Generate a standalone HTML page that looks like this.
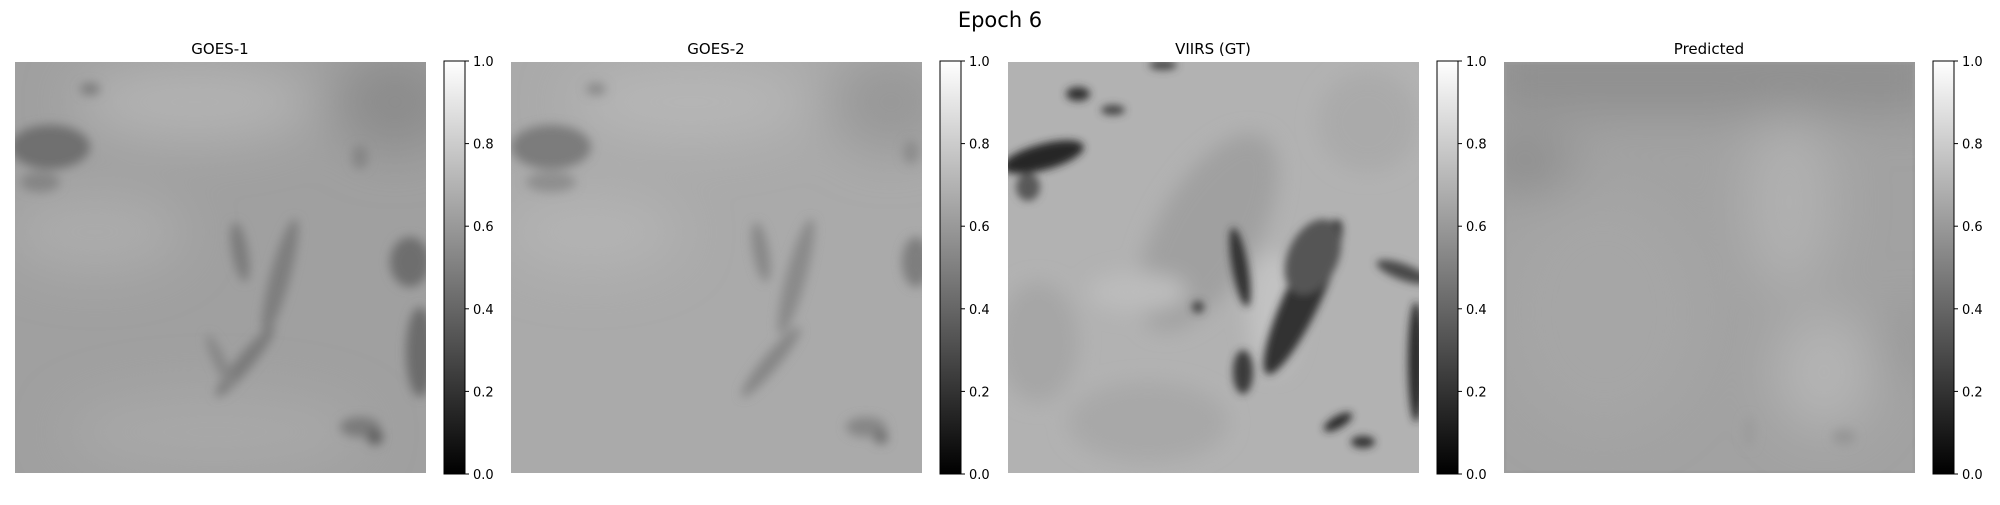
<!DOCTYPE html>
<html><head><meta charset="utf-8"><style>
html,body{margin:0;padding:0;background:#fff;}
body{width:2000px;height:500px;position:relative;overflow:hidden;font-family:"Liberation Sans","DejaVu Sans",sans-serif;}
</style></head><body>
<svg id="fig" width="2000" height="500" xmlns="http://www.w3.org/2000/svg" font-family="DejaVu Sans, Liberation Sans, sans-serif">
<defs>
<filter id="b2" x="-50%" y="-50%" width="200%" height="200%"><feGaussianBlur stdDeviation="4"/></filter>
<filter id="b5" x="-50%" y="-50%" width="200%" height="200%"><feGaussianBlur stdDeviation="5"/></filter>
<filter id="b10" x="-50%" y="-50%" width="200%" height="200%"><feGaussianBlur stdDeviation="10"/></filter>
<filter id="b25" x="-50%" y="-50%" width="200%" height="200%"><feGaussianBlur stdDeviation="25"/></filter>
<linearGradient id="cmap" x1="0" y1="1" x2="0" y2="0"><stop offset="0" stop-color="#000"/><stop offset="1" stop-color="#fff"/></linearGradient>
<clipPath id="clip"><rect x="0" y="0" width="411" height="411"/></clipPath>
</defs>
<text x="1000" y="27" text-anchor="middle" font-size="21" fill="#000">Epoch 6</text>

<!-- GOES-1 -->
<g>
<text x="220" y="54" text-anchor="middle" font-size="15">GOES-1</text>
<g transform="translate(15,62)" clip-path="url(#clip)">
<rect width="411" height="411" fill="#a0a0a0"/>
<g filter="url(#b25)">
<ellipse cx="180" cy="40" rx="120" ry="40" fill="#b2b2b2"/>
<ellipse cx="80" cy="170" rx="90" ry="40" fill="#acacac"/>
<ellipse cx="380" cy="40" rx="60" ry="50" fill="#8c8c8c"/>
<ellipse cx="200" cy="370" rx="150" ry="40" fill="#a8a8a8"/>
</g>
<g filter="url(#b5)">
<ellipse cx="35" cy="85" rx="40" ry="22" fill="#707070"/>
<ellipse cx="25" cy="120" rx="20" ry="10" fill="#858585"/>
<ellipse cx="75" cy="27" rx="10" ry="6" fill="#7a7a7a" />
<ellipse cx="225" cy="190" rx="8" ry="30" fill="#7c7c7c" transform="rotate(-10 225 190)"/>
<ellipse cx="265" cy="215" rx="10" ry="60" fill="#7e7e7e" transform="rotate(15 265 215)"/>
<ellipse cx="230" cy="300" rx="8" ry="45" fill="#7a7a7a" transform="rotate(40 230 300)"/>
<ellipse cx="205" cy="300" rx="6" ry="30" fill="#868686" transform="rotate(-25 205 300)"/>
<ellipse cx="395" cy="200" rx="20" ry="25" fill="#6e6e6e"/>
<ellipse cx="405" cy="290" rx="14" ry="45" fill="#6c6c6c"/>
<ellipse cx="345" cy="365" rx="20" ry="10" fill="#7a7a7a"/>
<ellipse cx="360" cy="375" rx="8" ry="8" fill="#606060"/>
<ellipse cx="345" cy="95" rx="8" ry="12" fill="#858585"/>
</g>
</g>
</g>
<!-- GOES-2 -->
<g>
<text x="716" y="54" text-anchor="middle" font-size="15">GOES-2</text>
<g transform="translate(511,62)" clip-path="url(#clip)">
<rect width="411" height="411" fill="#aaaaaa"/>
<g filter="url(#b25)">
<ellipse cx="180" cy="40" rx="120" ry="40" fill="#b6b6b6"/>
<ellipse cx="80" cy="170" rx="90" ry="40" fill="#b3b3b3"/>
<ellipse cx="380" cy="40" rx="60" ry="50" fill="#989898"/>
</g>
<g filter="url(#b5)">
<ellipse cx="40" cy="85" rx="40" ry="22" fill="#7c7c7c"/>
<ellipse cx="40" cy="120" rx="25" ry="10" fill="#8e8e8e"/>
<ellipse cx="85" cy="27" rx="10" ry="6" fill="#888"/>
<ellipse cx="250" cy="190" rx="8" ry="30" fill="#888" transform="rotate(-10 250 190)"/>
<ellipse cx="285" cy="215" rx="10" ry="60" fill="#8a8a8a" transform="rotate(15 285 215)"/>
<ellipse cx="260" cy="300" rx="8" ry="45" fill="#868686" transform="rotate(40 260 300)"/>
<ellipse cx="405" cy="200" rx="14" ry="25" fill="#7e7e7e"/>
<ellipse cx="400" cy="90" rx="8" ry="12" fill="#8c8c8c"/>
<ellipse cx="355" cy="365" rx="20" ry="10" fill="#868686"/>
<ellipse cx="370" cy="375" rx="7" ry="7" fill="#707070"/>
</g>
</g>
</g>
<!-- VIIRS -->
<g>
<text x="1213" y="54" text-anchor="middle" font-size="15">VIIRS (GT)</text>
<g transform="translate(1008,62)" clip-path="url(#clip)">
<rect width="411" height="411" fill="#b2b2b2"/>
<g filter="url(#b10)">
<ellipse cx="200" cy="170" rx="50" ry="110" fill="#a0a0a0" transform="rotate(30 200 170)"/>
<ellipse cx="30" cy="280" rx="40" ry="60" fill="#a6a6a6"/>
<ellipse cx="140" cy="360" rx="80" ry="40" fill="#a8a8a8"/>
<ellipse cx="265" cy="250" rx="25" ry="60" fill="#c2c2c2"/>
<ellipse cx="360" cy="60" rx="50" ry="50" fill="#aaaaaa"/>
<ellipse cx="130" cy="230" rx="50" ry="20" fill="#bcbcbc"/>
</g>
<g filter="url(#b2)">
<ellipse cx="70" cy="32" rx="12" ry="7" fill="#303030"/>
<ellipse cx="105" cy="48" rx="12" ry="5" fill="#444"/>
<ellipse cx="35" cy="95" rx="42" ry="13" fill="#282828" transform="rotate(-15 35 95)"/>
<ellipse cx="20" cy="125" rx="12" ry="14" fill="#585858"/>
<ellipse cx="295" cy="235" rx="18" ry="85" fill="#303030" transform="rotate(25 295 235)"/>
<ellipse cx="305" cy="195" rx="25" ry="40" fill="#555" transform="rotate(25 305 195)"/>
<ellipse cx="232" cy="205" rx="8" ry="40" fill="#333" transform="rotate(-10 232 205)"/>
<ellipse cx="235" cy="310" rx="10" ry="22" fill="#3a3a3a"/>
<ellipse cx="408" cy="300" rx="8" ry="60" fill="#2a2a2a"/>
<ellipse cx="395" cy="210" rx="28" ry="8" fill="#4a4a4a" transform="rotate(20 395 210)"/>
<ellipse cx="330" cy="360" rx="16" ry="6" fill="#2a2a2a" transform="rotate(-30 330 360)"/>
<ellipse cx="355" cy="380" rx="12" ry="6" fill="#303030"/>
<ellipse cx="155" cy="3" rx="14" ry="5" fill="#484848"/>
<ellipse cx="190" cy="245" rx="6" ry="6" fill="#444"/>
</g>
</g>
</g>
<!-- Predicted -->
<g>
<text x="1709" y="54" text-anchor="middle" font-size="15">Predicted</text>
<g transform="translate(1504,62)" clip-path="url(#clip)">
<rect width="411" height="411" fill="#a2a2a2"/>
<g filter="url(#b25)">
<rect x="-20" y="-20" width="460" height="70" fill="#8e8e8e"/>
<ellipse cx="20" cy="100" rx="50" ry="25" fill="#8a8a8a"/>
<ellipse cx="285" cy="140" rx="45" ry="90" fill="#b0b0b0"/>
<ellipse cx="320" cy="310" rx="50" ry="60" fill="#b4b4b4"/>
<ellipse cx="405" cy="280" rx="12" ry="40" fill="#8e8e8e"/>
<ellipse cx="100" cy="250" rx="100" ry="120" fill="#a6a6a6"/>
</g>
<g filter="url(#b5)">
<ellipse cx="340" cy="375" rx="12" ry="8" fill="#969696"/>
<ellipse cx="245" cy="370" rx="6" ry="16" fill="#9c9c9c"/>
</g>
<rect x="1" y="1" width="409" height="409" fill="none" stroke="#999" stroke-width="3" opacity="0.6"/>
</g>
</g>
<g id="cbars"></g>
</svg>
<script>
const tickValues = [0, 0.2, 0.4, 0.6, 0.8, 1.0];
const tickLabels = ["0.0", "0.2", "0.4", "0.6", "0.8", "1.0"];
const colorbarNames = ["goes1", "goes2", "viirs", "predicted"];
const cbX = [444, 940, 1437, 1933];
const cbTop = 61, cbBottom = 474, cbW = 21;
const yScale = v => cbBottom - v * (cbBottom - cbTop);
const NS = "http://www.w3.org/2000/svg";
const root = document.getElementById('cbars');
colorbarNames.forEach((nm, i) => {
  const g = document.createElementNS(NS, 'g');
  
  
  const r = document.createElementNS(NS, 'rect');
  
  
  r.setAttribute('x', cbX[i]); r.setAttribute('y', cbTop);
  r.setAttribute('width', cbW); r.setAttribute('height', cbBottom - cbTop);
  r.setAttribute('fill', 'url(#cmap)'); r.setAttribute('stroke', '#000'); r.setAttribute('stroke-width', '1');
  g.appendChild(r);
  tickValues.forEach((v, j) => {
    const y = yScale(v);
    const t = document.createElementNS(NS, 'line');
    
    
    t.setAttribute('x1', cbX[i] + cbW); t.setAttribute('x2', cbX[i] + cbW + 4);
    t.setAttribute('y1', y); t.setAttribute('y2', y);
    t.setAttribute('stroke', '#000'); t.setAttribute('stroke-width', '1');
    g.appendChild(t);
    const tx = document.createElementNS(NS, 'text');
    
    
    tx.setAttribute('x', cbX[i] + cbW + 8); tx.setAttribute('y', y + 5);
    tx.setAttribute('font-size', '13');
    tx.textContent = tickLabels[j];
    g.appendChild(tx);
  });
  root.appendChild(g);
});
</script>
</body></html>
